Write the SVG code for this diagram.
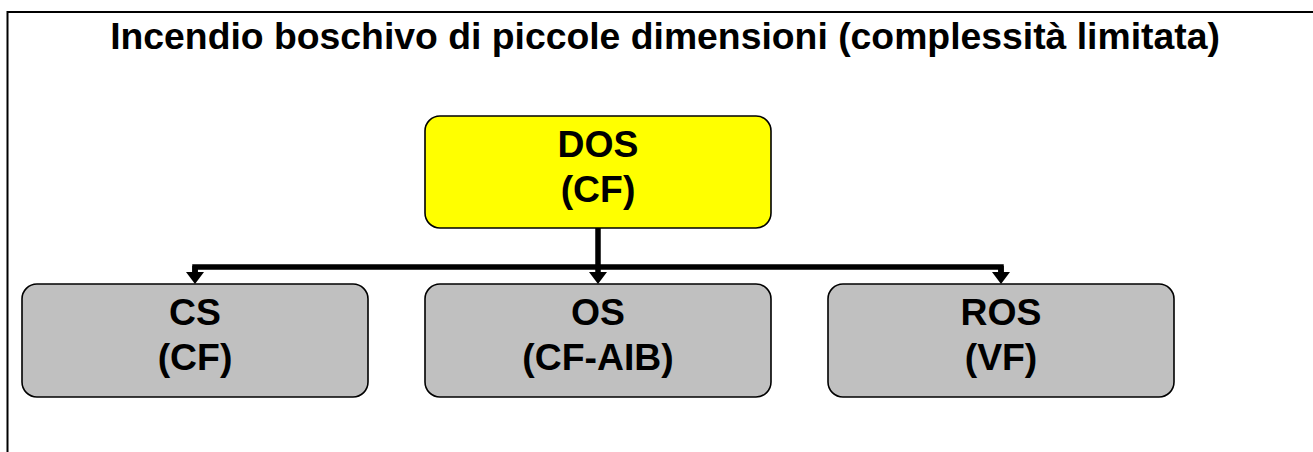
<svg xmlns="http://www.w3.org/2000/svg" width="1313" height="452" viewBox="0 0 1313 452">
  <style>
    .frame { fill: none; stroke: #000; stroke-width: 2; }
    .box { stroke: #000; stroke-width: 1.6; }
    .dos { fill: #FFFF00; }
    .sub { fill: #C0C0C0; }
    .lbl { font-family: "Liberation Sans", Arial, sans-serif; font-weight: bold; font-size: 37.33px; fill: #000; text-anchor: middle; }
    .wire { fill: none; stroke: #000; stroke-width: 5.5; stroke-linejoin: miter; }
    .drop { stroke: #000; stroke-width: 5.5; marker-end: url(#head); }
  </style>
  <defs>
    <!-- filled triangular head; tip sits 12px past the end of the stem -->
    <marker id="head" markerUnits="userSpaceOnUse" markerWidth="12" markerHeight="18" refX="0" refY="9" orient="auto" viewBox="0 0 12 18">
      <path d="M0,0 L12,9 L0,18 Z" fill="#000"/>
    </marker>
  </defs>

  <rect class="frame" x="7.5" y="12" width="1400" height="500"/>

  <text class="lbl" x="665" y="49">Incendio boschivo di piccole dimensioni (complessità limitata)</text>

  <g id="connectors">
    <path class="wire" d="M598,228 V267"/>
    <path class="wire" d="M195,272 V267 H1001 V272"/>
    <line class="drop" x1="195" y1="266" x2="195" y2="272"/>
    <line class="drop" x1="598" y1="266" x2="598" y2="272"/>
    <line class="drop" x1="1001" y1="266" x2="1001" y2="272"/>
  </g>

  <g id="node-dos">
    <rect class="box dos" x="425" y="116" width="346" height="112" rx="15"/>
    <text class="lbl" x="598" y="157">DOS</text>
    <text class="lbl" x="598" y="202">(CF)</text>
  </g>

  <g id="node-cs">
    <rect class="box sub" x="22" y="284" width="346" height="113" rx="15"/>
    <text class="lbl" x="195" y="325">CS</text>
    <text class="lbl" x="195" y="370">(CF)</text>
  </g>

  <g id="node-os">
    <rect class="box sub" x="425" y="284" width="346" height="113" rx="15"/>
    <text class="lbl" x="598" y="325">OS</text>
    <text class="lbl" x="598" y="370">(CF-AIB)</text>
  </g>

  <g id="node-ros">
    <rect class="box sub" x="828" y="284" width="346" height="113" rx="15"/>
    <text class="lbl" x="1001" y="325">ROS</text>
    <text class="lbl" x="1001" y="370">(VF)</text>
  </g>
</svg>
